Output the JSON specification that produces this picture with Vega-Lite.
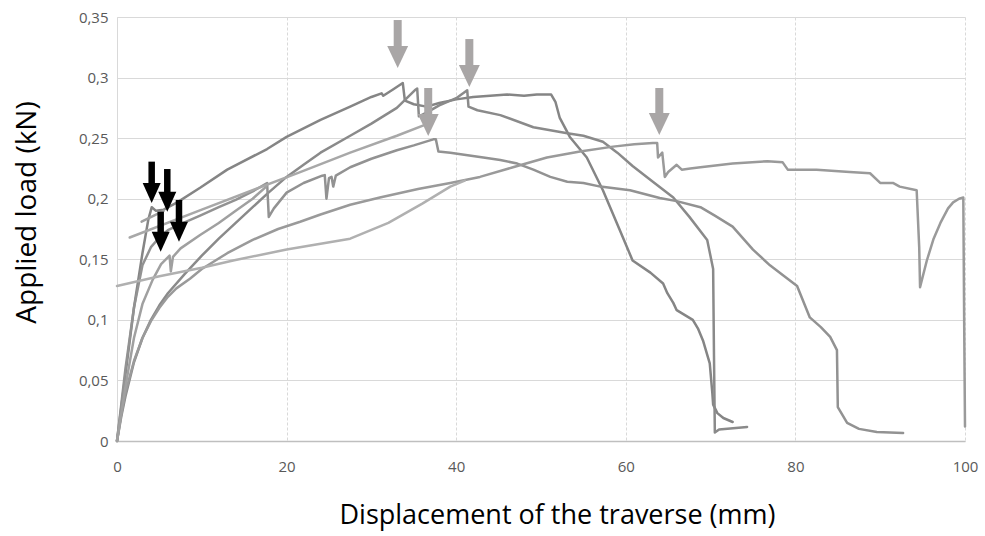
{
  "$schema": "https://vega.github.io/schema/vega-lite/v6.json",
  "width": 848,
  "height": 424,
  "autosize": {"type": "none"},
  "padding": {"left": 117, "top": 17, "right": 20, "bottom": 95},
  "background": "white",
  "config": {
    "view": {"stroke": null},
    "font": "Open Sans",
    "axis": {"labelFont": "Open Sans", "titleFont": "Open Sans"}
  },
  "datasets": {
    "curves": [
      {"s":"A","i":0,"x":0,"y":0},{"s":"A","i":1,"x":1,"y":0.055},{"s":"A","i":2,"x":2,"y":0.11},{"s":"A","i":3,"x":3,"y":0.155},{"s":"A","i":4,"x":3.7,"y":0.183},{"s":"A","i":5,"x":4.1,"y":0.193},{"s":"A","i":6,"x":4.6,"y":0.19},{"s":"A","i":7,"x":5.5,"y":0.191},{"s":"A","i":8,"x":7.1,"y":0.197},{"s":"A","i":9,"x":9.8,"y":0.209},{"s":"A","i":10,"x":13,"y":0.224},{"s":"A","i":11,"x":17.7,"y":0.241},{"s":"A","i":12,"x":20,"y":0.251},{"s":"A","i":13,"x":24,"y":0.265},{"s":"A","i":14,"x":27.5,"y":0.276},{"s":"A","i":15,"x":30,"y":0.284},{"s":"A","i":16,"x":31.2,"y":0.287},{"s":"A","i":17,"x":31.4,"y":0.285},{"s":"A","i":18,"x":32.5,"y":0.29},{"s":"A","i":19,"x":33.7,"y":0.2955},{"s":"A","i":20,"x":33.95,"y":0.281},{"s":"A","i":21,"x":35,"y":0.278},{"s":"A","i":22,"x":36.5,"y":0.276},{"s":"A","i":23,"x":38,"y":0.279},{"s":"A","i":24,"x":40,"y":0.282},{"s":"A","i":25,"x":42,"y":0.284},{"s":"A","i":26,"x":44,"y":0.285},{"s":"A","i":27,"x":46,"y":0.286},{"s":"A","i":28,"x":48,"y":0.285},{"s":"A","i":29,"x":49.5,"y":0.286},{"s":"A","i":30,"x":51.2,"y":0.286},{"s":"A","i":31,"x":51.7,"y":0.28},{"s":"A","i":32,"x":52.2,"y":0.267},{"s":"A","i":33,"x":53.4,"y":0.251},{"s":"A","i":34,"x":55.4,"y":0.234},{"s":"A","i":35,"x":57.3,"y":0.207},{"s":"A","i":36,"x":59.3,"y":0.174},{"s":"A","i":37,"x":60.8,"y":0.149},{"s":"A","i":38,"x":62.9,"y":0.139},{"s":"A","i":39,"x":64.4,"y":0.13},{"s":"A","i":40,"x":64.9,"y":0.122},{"s":"A","i":41,"x":65.6,"y":0.114},{"s":"A","i":42,"x":66,"y":0.108},{"s":"A","i":43,"x":67.9,"y":0.1},{"s":"A","i":44,"x":68.5,"y":0.093},{"s":"A","i":45,"x":69.1,"y":0.083},{"s":"A","i":46,"x":69.9,"y":0.064},{"s":"A","i":47,"x":70.2,"y":0.04},{"s":"A","i":48,"x":70.3,"y":0.03},{"s":"A","i":49,"x":70.8,"y":0.023},{"s":"A","i":50,"x":71.5,"y":0.019},{"s":"A","i":51,"x":72.6,"y":0.0157},

      {"s":"A0","i":0,"x":2.9,"y":0.181},{"s":"A0","i":1,"x":5.5,"y":0.19},

      {"s":"B","i":0,"x":0,"y":0},{"s":"B","i":1,"x":0.5,"y":0.02},{"s":"B","i":2,"x":1,"y":0.037},{"s":"B","i":3,"x":2,"y":0.065},{"s":"B","i":4,"x":3,"y":0.085},{"s":"B","i":5,"x":4,"y":0.1},{"s":"B","i":6,"x":5,"y":0.112},{"s":"B","i":7,"x":6,"y":0.122},{"s":"B","i":8,"x":8,"y":0.138},{"s":"B","i":9,"x":10,"y":0.153},{"s":"B","i":10,"x":12,"y":0.167},{"s":"B","i":11,"x":14,"y":0.18},{"s":"B","i":12,"x":16,"y":0.193},{"s":"B","i":13,"x":17.7,"y":0.204},{"s":"B","i":14,"x":20,"y":0.218},{"s":"B","i":15,"x":22,"y":0.228},{"s":"B","i":16,"x":24,"y":0.238},{"s":"B","i":17,"x":27.5,"y":0.252},{"s":"B","i":18,"x":30,"y":0.262},{"s":"B","i":19,"x":33,"y":0.275},{"s":"B","i":20,"x":35.2,"y":0.29},{"s":"B","i":21,"x":35.4,"y":0.291},{"s":"B","i":22,"x":35.6,"y":0.268},{"s":"B","i":23,"x":36.5,"y":0.271},{"s":"B","i":24,"x":38,"y":0.277},{"s":"B","i":25,"x":40,"y":0.283},{"s":"B","i":26,"x":41.3,"y":0.2895},{"s":"B","i":27,"x":41.45,"y":0.276},{"s":"B","i":28,"x":42.5,"y":0.273},{"s":"B","i":29,"x":45.2,"y":0.269},{"s":"B","i":30,"x":49.1,"y":0.259},{"s":"B","i":31,"x":53.1,"y":0.254},{"s":"B","i":32,"x":55,"y":0.252},{"s":"B","i":33,"x":57.3,"y":0.247},{"s":"B","i":34,"x":59,"y":0.238},{"s":"B","i":35,"x":60.8,"y":0.227},{"s":"B","i":36,"x":63,"y":0.215},{"s":"B","i":37,"x":65.6,"y":0.201},{"s":"B","i":38,"x":67.5,"y":0.185},{"s":"B","i":39,"x":69.6,"y":0.166},{"s":"B","i":40,"x":70.3,"y":0.142},{"s":"B","i":41,"x":70.4,"y":0.07},{"s":"B","i":42,"x":70.5,"y":0.007},{"s":"B","i":43,"x":71,"y":0.0095},{"s":"B","i":44,"x":74.3,"y":0.0116},

      {"s":"C","i":0,"x":0,"y":0},{"s":"C","i":1,"x":1,"y":0.06},{"s":"C","i":2,"x":2,"y":0.11},{"s":"C","i":3,"x":3,"y":0.145},{"s":"C","i":4,"x":4,"y":0.16},{"s":"C","i":5,"x":5,"y":0.168},{"s":"C","i":6,"x":6,"y":0.174},{"s":"C","i":7,"x":7.5,"y":0.179},{"s":"C","i":8,"x":9.8,"y":0.186},{"s":"C","i":9,"x":12,"y":0.193},{"s":"C","i":10,"x":14,"y":0.199},{"s":"C","i":11,"x":16,"y":0.206},{"s":"C","i":12,"x":17.7,"y":0.213},{"s":"C","i":13,"x":17.9,"y":0.185},{"s":"C","i":14,"x":18.5,"y":0.192},{"s":"C","i":15,"x":20,"y":0.205},{"s":"C","i":16,"x":22,"y":0.213},{"s":"C","i":17,"x":24.2,"y":0.219},{"s":"C","i":18,"x":24.5,"y":0.2195},{"s":"C","i":19,"x":24.7,"y":0.2},{"s":"C","i":20,"x":25,"y":0.217},{"s":"C","i":21,"x":25.3,"y":0.218},{"s":"C","i":22,"x":25.5,"y":0.21},{"s":"C","i":23,"x":25.8,"y":0.219},{"s":"C","i":24,"x":27.5,"y":0.226},{"s":"C","i":25,"x":30,"y":0.233},{"s":"C","i":26,"x":33,"y":0.24},{"s":"C","i":27,"x":35,"y":0.244},{"s":"C","i":28,"x":37.3,"y":0.249},{"s":"C","i":29,"x":37.6,"y":0.249},{"s":"C","i":30,"x":37.9,"y":0.239},{"s":"C","i":31,"x":39.3,"y":0.238},{"s":"C","i":32,"x":43.2,"y":0.234},{"s":"C","i":33,"x":45.2,"y":0.232},{"s":"C","i":34,"x":47.2,"y":0.229},{"s":"C","i":35,"x":49.1,"y":0.224},{"s":"C","i":36,"x":51.1,"y":0.218},{"s":"C","i":37,"x":53.1,"y":0.214},{"s":"C","i":38,"x":55,"y":0.213},{"s":"C","i":39,"x":57,"y":0.21},{"s":"C","i":40,"x":60.5,"y":0.207},{"s":"C","i":41,"x":64,"y":0.2006},{"s":"C","i":42,"x":66,"y":0.198},{"s":"C","i":43,"x":68.8,"y":0.193},{"s":"C","i":44,"x":70.5,"y":0.186},{"s":"C","i":45,"x":72.6,"y":0.177},{"s":"C","i":46,"x":75,"y":0.158},{"s":"C","i":47,"x":77,"y":0.145},{"s":"C","i":48,"x":78.5,"y":0.137},{"s":"C","i":49,"x":80.2,"y":0.128},{"s":"C","i":50,"x":81.7,"y":0.102},{"s":"C","i":51,"x":83,"y":0.094},{"s":"C","i":52,"x":84.1,"y":0.086},{"s":"C","i":53,"x":84.9,"y":0.075},{"s":"C","i":54,"x":85,"y":0.028},{"s":"C","i":55,"x":86.1,"y":0.015},{"s":"C","i":56,"x":87.5,"y":0.01},{"s":"C","i":57,"x":89.6,"y":0.0074},{"s":"C","i":58,"x":92.7,"y":0.0066},

      {"s":"E","i":0,"x":0,"y":0},{"s":"E","i":1,"x":0.5,"y":0.022},{"s":"E","i":2,"x":1,"y":0.04},{"s":"E","i":3,"x":2,"y":0.066},{"s":"E","i":4,"x":3,"y":0.085},{"s":"E","i":5,"x":4,"y":0.099},{"s":"E","i":6,"x":5,"y":0.11},{"s":"E","i":7,"x":6,"y":0.119},{"s":"E","i":8,"x":7,"y":0.126},{"s":"E","i":9,"x":8.6,"y":0.134},{"s":"E","i":10,"x":10,"y":0.142},{"s":"E","i":11,"x":13,"y":0.155},{"s":"E","i":12,"x":16,"y":0.166},{"s":"E","i":13,"x":19,"y":0.175},{"s":"E","i":14,"x":21.6,"y":0.181},{"s":"E","i":15,"x":24,"y":0.187},{"s":"E","i":16,"x":27.5,"y":0.195},{"s":"E","i":17,"x":31,"y":0.201},{"s":"E","i":18,"x":35.5,"y":0.208},{"s":"E","i":19,"x":39.3,"y":0.213},{"s":"E","i":20,"x":42.8,"y":0.218},{"s":"E","i":21,"x":46.7,"y":0.226},{"s":"E","i":22,"x":50.7,"y":0.234},{"s":"E","i":23,"x":54.6,"y":0.239},{"s":"E","i":24,"x":58.5,"y":0.243},{"s":"E","i":25,"x":61,"y":0.245},{"s":"E","i":26,"x":63.2,"y":0.246},{"s":"E","i":27,"x":63.7,"y":0.246},{"s":"E","i":28,"x":63.8,"y":0.234},{"s":"E","i":29,"x":64.3,"y":0.238},{"s":"E","i":30,"x":64.6,"y":0.218},{"s":"E","i":31,"x":65,"y":0.222},{"s":"E","i":32,"x":66,"y":0.228},{"s":"E","i":33,"x":66.6,"y":0.224},{"s":"E","i":34,"x":67.6,"y":0.225},{"s":"E","i":35,"x":68.8,"y":0.226},{"s":"E","i":36,"x":72.6,"y":0.229},{"s":"E","i":37,"x":76.7,"y":0.231},{"s":"E","i":38,"x":78.5,"y":0.23},{"s":"E","i":39,"x":79.1,"y":0.224},{"s":"E","i":40,"x":82.5,"y":0.224},{"s":"E","i":41,"x":86.4,"y":0.222},{"s":"E","i":42,"x":88.8,"y":0.221},{"s":"E","i":43,"x":90,"y":0.213},{"s":"E","i":44,"x":91.5,"y":0.213},{"s":"E","i":45,"x":92.3,"y":0.21},{"s":"E","i":46,"x":94.3,"y":0.207},{"s":"E","i":47,"x":94.6,"y":0.16},{"s":"E","i":48,"x":94.7,"y":0.127},{"s":"E","i":49,"x":95.5,"y":0.149},{"s":"E","i":50,"x":96.3,"y":0.167},{"s":"E","i":51,"x":97.1,"y":0.18},{"s":"E","i":52,"x":98,"y":0.192},{"s":"E","i":53,"x":98.6,"y":0.197},{"s":"E","i":54,"x":99.3,"y":0.2},{"s":"E","i":55,"x":99.8,"y":0.201},{"s":"E","i":56,"x":99.9,"y":0.1},{"s":"E","i":57,"x":100,"y":0.012},

      {"s":"K","i":0,"x":0,"y":0},{"s":"K","i":1,"x":1,"y":0.045},{"s":"K","i":2,"x":2,"y":0.085},{"s":"K","i":3,"x":3,"y":0.113},{"s":"K","i":4,"x":4.2,"y":0.133},{"s":"K","i":5,"x":5.2,"y":0.146},{"s":"K","i":6,"x":6.2,"y":0.153},{"s":"K","i":7,"x":6.35,"y":0.14},{"s":"K","i":8,"x":6.6,"y":0.152},{"s":"K","i":9,"x":7.5,"y":0.159},{"s":"K","i":10,"x":9.8,"y":0.17},{"s":"K","i":11,"x":12,"y":0.18},{"s":"K","i":12,"x":14,"y":0.19},{"s":"K","i":13,"x":16,"y":0.2},{"s":"K","i":14,"x":17.6,"y":0.21},

      {"s":"L1","i":0,"x":0,"y":0.128},{"s":"L1","i":1,"x":5,"y":0.136},{"s":"L1","i":2,"x":10,"y":0.143},{"s":"L1","i":3,"x":13.7,"y":0.149},{"s":"L1","i":4,"x":20,"y":0.158},{"s":"L1","i":5,"x":27.5,"y":0.167},{"s":"L1","i":6,"x":32,"y":0.18},{"s":"L1","i":7,"x":36,"y":0.196},{"s":"L1","i":8,"x":39.3,"y":0.21},{"s":"L1","i":9,"x":41,"y":0.215},

      {"s":"L2","i":0,"x":1.5,"y":0.168},{"s":"L2","i":1,"x":10,"y":0.191},{"s":"L2","i":2,"x":21.6,"y":0.222},{"s":"L2","i":3,"x":27.5,"y":0.238},{"s":"L2","i":4,"x":33,"y":0.252},{"s":"L2","i":5,"x":36.3,"y":0.261}
    ],
    "blackArrows": [
      {"x": 4.09, "top": 0.2306, "tip": 0.1965},
      {"x": 5.93, "top": 0.2245, "tip": 0.1893},
      {"x": 5.15, "top": 0.1893, "tip": 0.1563},
      {"x": 7.31, "top": 0.199, "tip": 0.1645}
    ],
    "greyArrows": [
      {"x": 33.1, "top": 0.3475, "tip": 0.3079},
      {"x": 36.7, "top": 0.2914, "tip": 0.2518},
      {"x": 41.55, "top": 0.3318, "tip": 0.2922},
      {"x": 63.95, "top": 0.2914, "tip": 0.2526}
    ]
  },
  "layer": [
    {
      "data": {"name": "curves"},
      "mark": {"type": "line", "strokeWidth": 2.5, "strokeJoin": "round", "strokeCap": "round"},
      "encoding": {
        "x": {
          "field": "x", "type": "quantitative",
          "scale": {"domain": [0, 100], "nice": false, "zero": false},
          "axis": {
            "values": [0, 20, 40, 60, 80, 100],
            "title": "Displacement of the traverse (mm)",
            "grid": true, "gridColor": "#d9d9d9", "gridDash": [3, 2], "gridWidth": 1,
            "domain": true, "domainColor": "#bfbfbf", "domainWidth": 1.5,
            "ticks": false, "tickSize": 0,
            "labelPadding": 18, "labelFontSize": 15, "labelColor": "#595959", "labelFlush": false, "labelOverlap": false,
            "titleFontSize": 27, "titleFontWeight": "normal", "titleColor": "#000000",
            "titleX": 440, "titleY": 61, "titleBaseline": "top"
          }
        },
        "y": {
          "field": "y", "type": "quantitative",
          "scale": {"domain": [0, 0.35], "nice": false, "zero": false},
          "axis": {
            "values": [0, 0.05, 0.1, 0.15, 0.2, 0.25, 0.3, 0.35],
            "labelExpr": "replace(format(datum.value, '.2~f'), '.', ',')",
            "title": "Applied load (kN)",
            "grid": true, "gridColor": "#d9d9d9", "gridWidth": 1,
            "domain": true, "domainColor": "#d9d9d9", "domainWidth": 1,
            "ticks": false, "tickSize": 0,
            "labelPadding": 9, "labelFontSize": 15, "labelColor": "#595959", "labelFlush": false, "labelOverlap": false,
            "titleFontSize": 28, "titleFontWeight": "normal", "titleColor": "#000000",
            "titleX": -76, "titleY": 195, "titleAngle": 270, "titleBaseline": "bottom", "titleAlign": "center"
          }
        },
        "color": {
          "field": "s", "type": "nominal", "legend": null,
          "scale": {
            "domain": ["A", "A0", "B", "C", "E", "K", "L1", "L2"],
            "range": ["#858585", "#a0a0a0", "#8a8a8a", "#929292", "#9a9a9a", "#a0a0a0", "#b0b0b0", "#a8a8a8"]
          }
        },
        "detail": {"field": "s"},
        "order": {"field": "i", "type": "quantitative"}
      }
    },
    {
      "data": {"name": "greyArrows"},
      "mark": {"type": "rule", "strokeWidth": 8, "color": "#a9a6a6", "y2Offset": -18, "strokeCap": "butt"},
      "encoding": {
        "x": {"field": "x", "type": "quantitative"},
        "y": {"field": "top", "type": "quantitative"},
        "y2": {"field": "tip"}
      }
    },
    {
      "data": {"name": "greyArrows"},
      "mark": {"type": "point", "shape": "M-0.95,-1L0,1L0.95,-1Z", "filled": true, "size": 484, "color": "#a9a6a6", "opacity": 1, "yOffset": -11},
      "encoding": {
        "x": {"field": "x", "type": "quantitative"},
        "y": {"field": "tip", "type": "quantitative"}
      }
    },
    {
      "data": {"name": "blackArrows"},
      "mark": {"type": "rule", "strokeWidth": 6.5, "color": "#000000", "y2Offset": -16, "strokeCap": "butt"},
      "encoding": {
        "x": {"field": "x", "type": "quantitative"},
        "y": {"field": "top", "type": "quantitative"},
        "y2": {"field": "tip"}
      }
    },
    {
      "data": {"name": "blackArrows"},
      "mark": {"type": "point", "shape": "M-0.9,-1L0,1L0.9,-1Z", "filled": true, "size": 400, "color": "#000000", "opacity": 1, "yOffset": -10},
      "encoding": {
        "x": {"field": "x", "type": "quantitative"},
        "y": {"field": "tip", "type": "quantitative"}
      }
    }
  ]
}
